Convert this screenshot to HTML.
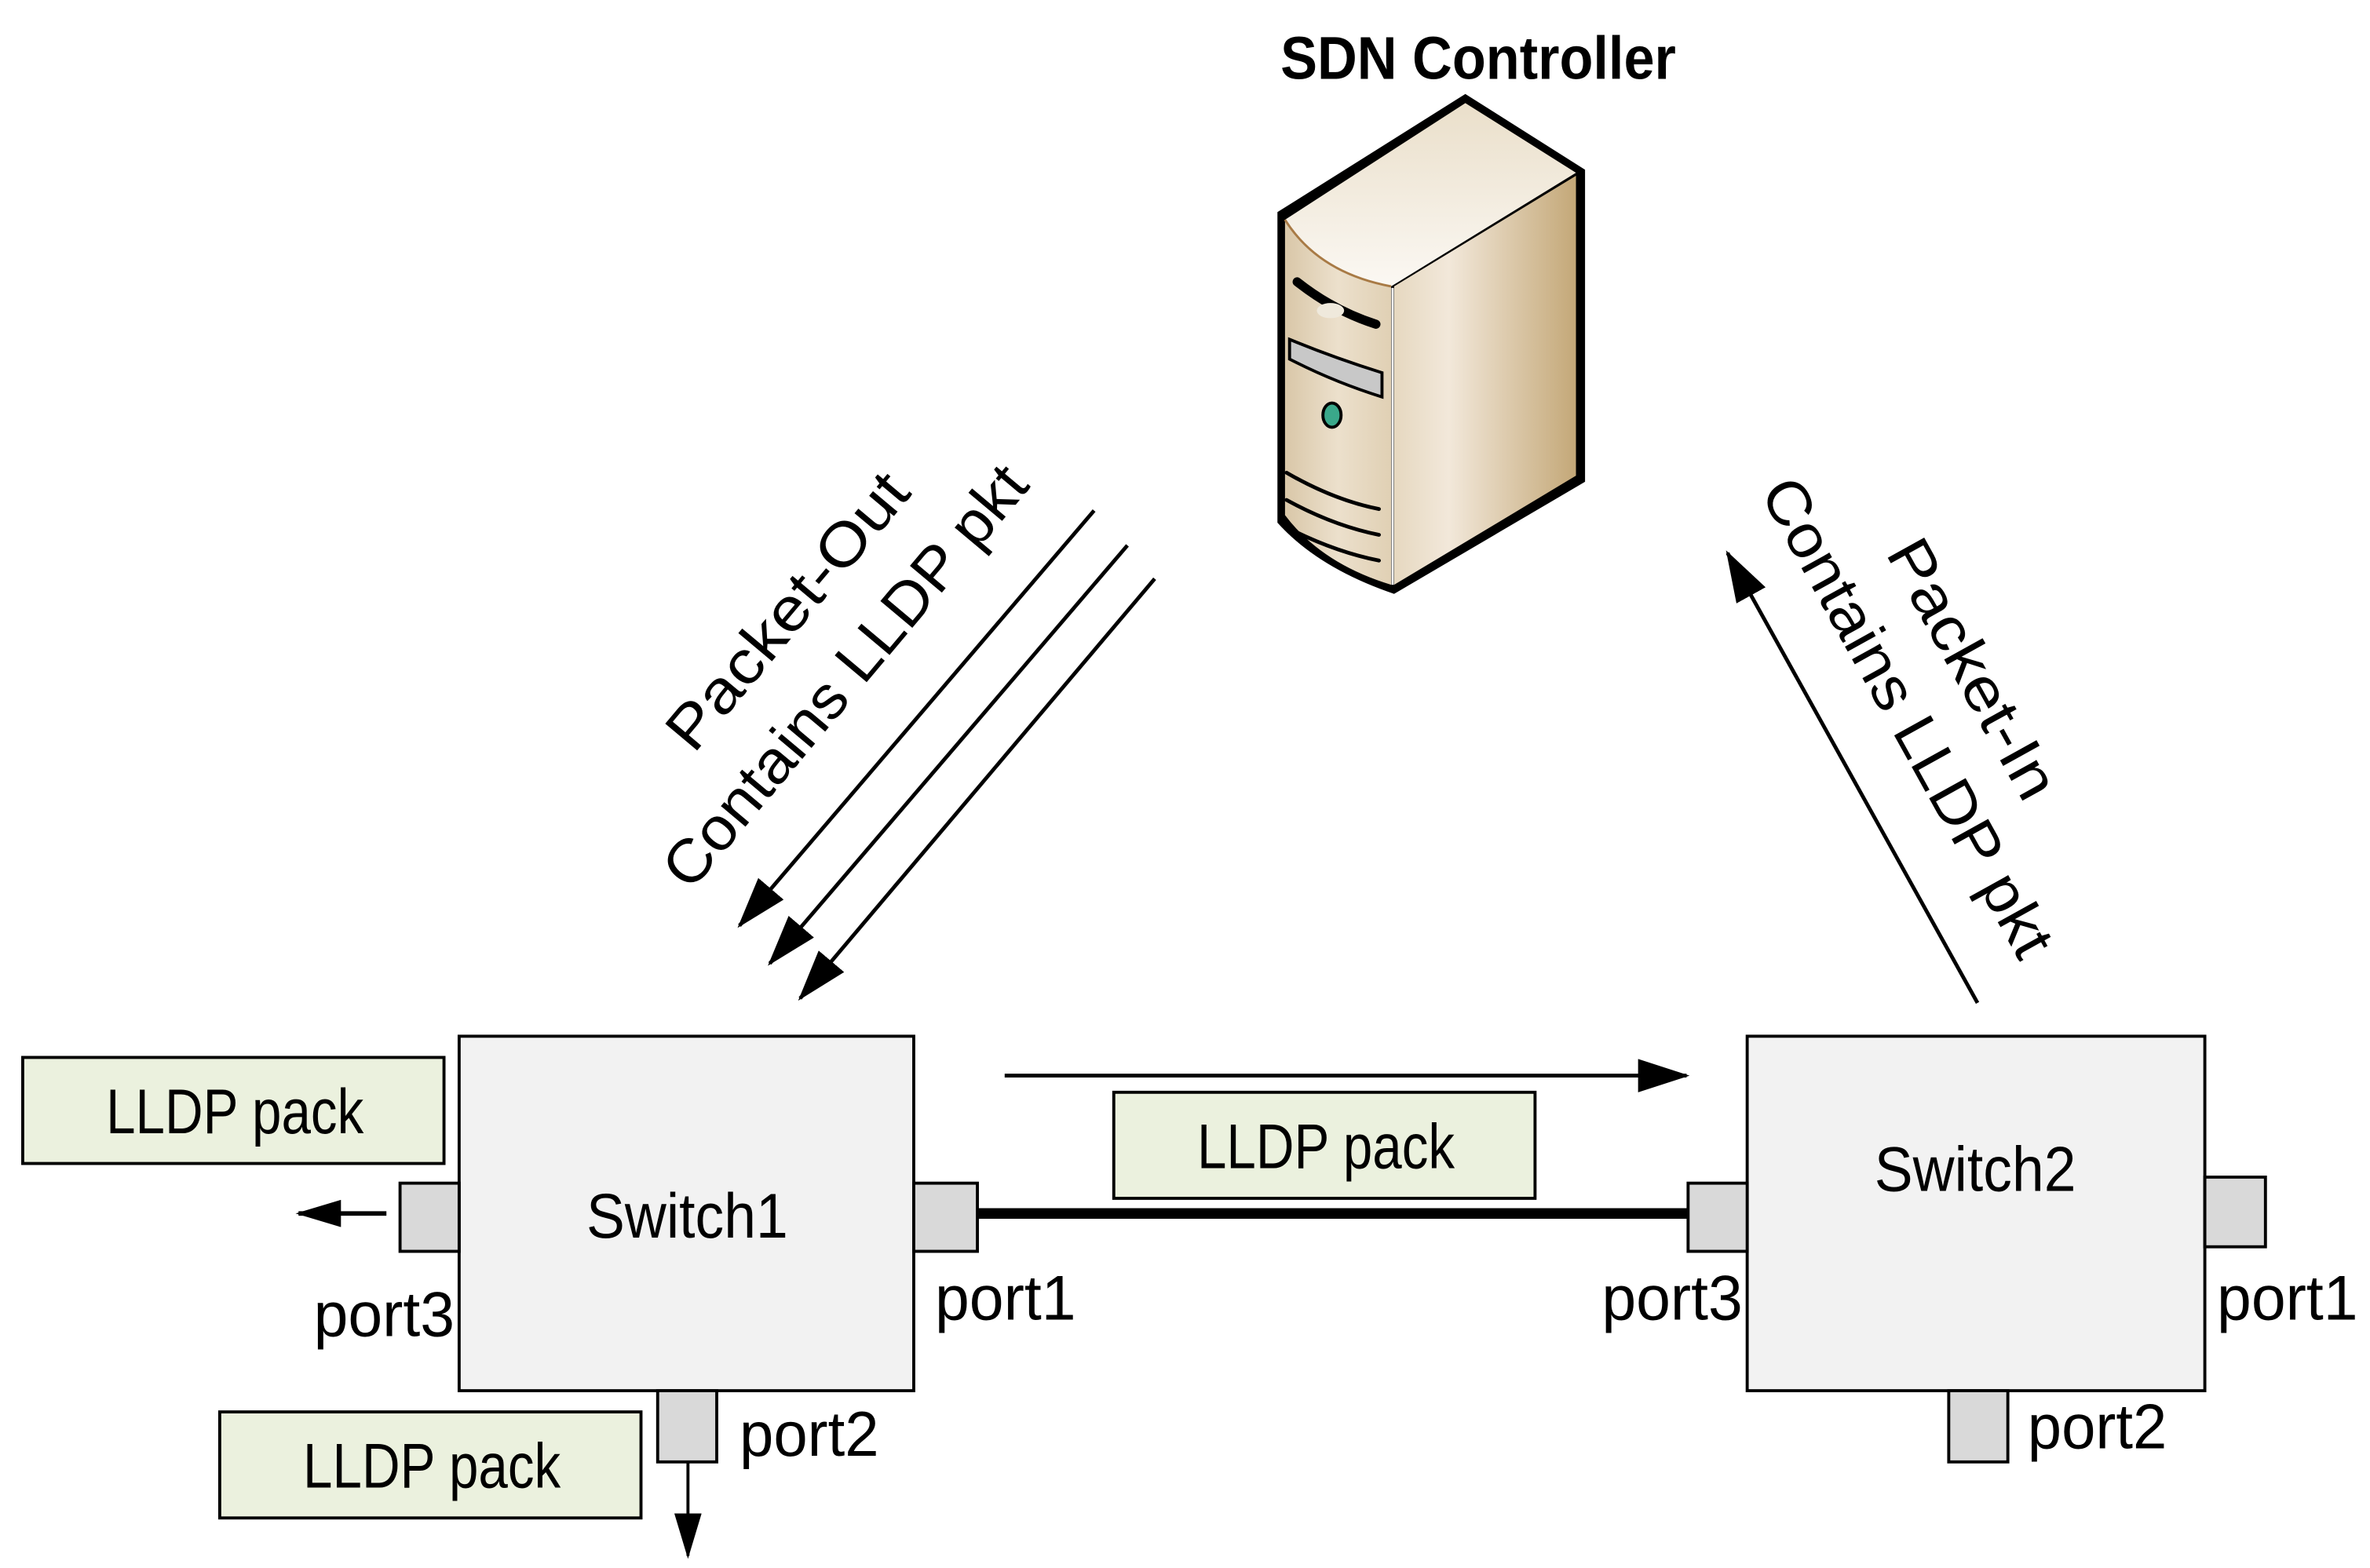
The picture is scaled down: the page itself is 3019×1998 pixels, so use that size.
<!DOCTYPE html>
<html><head><style>html,body{margin:0;padding:0;background:#fff}svg{display:block}</style></head>
<body>
<svg width="3019" height="1998" viewBox="0 0 1564 1035" xmlns="http://www.w3.org/2000/svg" font-family="'Liberation Sans',sans-serif">
<defs>
<linearGradient id="side" x1="0" x2="1" y1="0" y2="0"><stop offset="0" stop-color="#e6d8c0"/><stop offset="0.3" stop-color="#f2e8da"/><stop offset="1" stop-color="#c4a878"/></linearGradient>
<linearGradient id="front" x1="0" x2="1"><stop offset="0" stop-color="#d9c7a8"/><stop offset="0.5" stop-color="#ece0cc"/><stop offset="1" stop-color="#e0d0b4"/></linearGradient>
<linearGradient id="top" x1="0" x2="0" y1="0" y2="1"><stop offset="0" stop-color="#eadfca"/><stop offset="1" stop-color="#fbf8f3"/></linearGradient>
<marker id="ah" markerWidth="34" markerHeight="22" refX="32" refY="11" orient="auto" markerUnits="userSpaceOnUse" viewBox="0 0 34 22"><path d="M0,0 L34,11 L0,22 Z" fill="#000"/></marker>
<marker id="ahs" markerWidth="30" markerHeight="18" refX="28" refY="9" orient="auto" markerUnits="userSpaceOnUse" viewBox="0 0 30 18"><path d="M0,0 L30,9 L0,18 Z" fill="#000"/></marker>
</defs>
<!-- server -->
<path d="M967,62 L1046,112 L1046,318 L920,392 Q870,375 843,345 L843,140 Z" fill="#000"/>
<path d="M967,68 L1040,114 L918,189 Q870,180 848,145 Z" fill="url(#top)"/>
<path d="M848,145 Q870,180 918,189 L918,386 Q872,372 848,340 Z" fill="url(#front)"/>
<path d="M848,145 Q870,180 918,189" fill="none" stroke="#a87a45" stroke-width="1.5"/>
<path d="M920,189 L1040,116 L1040,314 L920,386 Z" fill="url(#side)"/>
<line x1="919" y1="190" x2="919" y2="386" stroke="#fff" stroke-width="1.5"/>
<path d="M856,186 Q880,205 908,214" stroke="#000" stroke-width="6" stroke-linecap="round" fill="none"/>
<ellipse cx="878" cy="205" rx="9" ry="5" fill="#efe9dc"/>
<path d="M851,224 L851,237 Q880,252 912,262 L912,246 Q880,236 851,224 Z" fill="#c8c8c8" stroke="#000" stroke-width="2"/>
<ellipse cx="879" cy="274" rx="6" ry="8" fill="#3aa88a" stroke="#000" stroke-width="2"/>
<path d="M849,312 Q880,330 910,336 M849,330 Q880,347 910,353 M849,348 Q880,364 910,370" stroke="#000" stroke-width="2.5" fill="none" stroke-linecap="round"/>
<text x="845" y="52" font-size="40" font-weight="bold" textLength="261" lengthAdjust="spacingAndGlyphs">SDN Controller</text>
<!-- packet-out arrows -->
<line x1="722" y1="337" x2="488" y2="611" stroke="#000" stroke-width="2.5" marker-end="url(#ah)"/>
<line x1="744" y1="360" x2="508" y2="636" stroke="#000" stroke-width="2.5" marker-end="url(#ah)"/>
<line x1="762" y1="382" x2="528" y2="659" stroke="#000" stroke-width="2.5" marker-end="url(#ah)"/>
<g font-size="40" fill="#000">
<text transform="translate(530,412) rotate(-50)" text-anchor="middle" textLength="225" lengthAdjust="spacingAndGlyphs">Packet-Out</text>
<text transform="translate(568,455) rotate(-50)" text-anchor="middle" textLength="350" lengthAdjust="spacingAndGlyphs">Contains LLDP pkt</text>
<text transform="translate(1290,448) rotate(61)" text-anchor="middle" textLength="190" lengthAdjust="spacingAndGlyphs">Packet-In</text>
<text transform="translate(1247,480) rotate(61)" text-anchor="middle" textLength="355" lengthAdjust="spacingAndGlyphs">Contains LLDP pkt</text>
</g>
<line x1="1305" y1="662" x2="1140" y2="365" stroke="#000" stroke-width="2.5" marker-end="url(#ah)"/>
<!-- switches -->
<rect x="303" y="684" width="300" height="234" fill="#f2f2f2" stroke="#000" stroke-width="2"/>
<rect x="1153" y="684" width="302" height="234" fill="#f2f2f2" stroke="#000" stroke-width="2"/>
<g fill="#d9d9d9" stroke="#000" stroke-width="2">
<rect x="264" y="781" width="39" height="45"/>
<rect x="603" y="781" width="42" height="45"/>
<rect x="434" y="918" width="39" height="47"/>
<rect x="1114" y="781" width="39" height="45"/>
<rect x="1455" y="777" width="40" height="46"/>
<rect x="1286" y="918" width="39" height="47"/>
</g>
<line x1="645" y1="801" x2="1114" y2="801" stroke="#000" stroke-width="7"/>
<line x1="663" y1="710" x2="1113" y2="710" stroke="#000" stroke-width="2.5" marker-end="url(#ah)"/>
<line x1="255" y1="801" x2="197" y2="801" stroke="#000" stroke-width="3" marker-end="url(#ahs)"/>
<line x1="454" y1="965" x2="454" y2="1027" stroke="#000" stroke-width="2" marker-end="url(#ahs)"/>
<g fill="#ebf1de" stroke="#000" stroke-width="2">
<rect x="15" y="698" width="278" height="70"/>
<rect x="735" y="721" width="278" height="70"/>
<rect x="145" y="932" width="278" height="70"/>
</g>
<g font-size="42" fill="#000">
<text x="70" y="748" textLength="170" lengthAdjust="spacingAndGlyphs">LLDP pack</text>
<text x="790" y="771" textLength="170" lengthAdjust="spacingAndGlyphs">LLDP pack</text>
<text x="200" y="982" textLength="170" lengthAdjust="spacingAndGlyphs">LLDP pack</text>
<text x="387" y="817" textLength="133" lengthAdjust="spacingAndGlyphs">Switch1</text>
<text x="1237" y="786" textLength="133" lengthAdjust="spacingAndGlyphs">Switch2</text>
<text x="207" y="882" textLength="93" lengthAdjust="spacingAndGlyphs">port3</text>
<text x="617" y="871" textLength="93" lengthAdjust="spacingAndGlyphs">port1</text>
<text x="1057" y="871" textLength="93" lengthAdjust="spacingAndGlyphs">port3</text>
<text x="1463" y="871" textLength="93" lengthAdjust="spacingAndGlyphs">port1</text>
<text x="488" y="961" textLength="92" lengthAdjust="spacingAndGlyphs">port2</text>
<text x="1338" y="956" textLength="92" lengthAdjust="spacingAndGlyphs">port2</text>
</g>
</svg>
</body></html>
